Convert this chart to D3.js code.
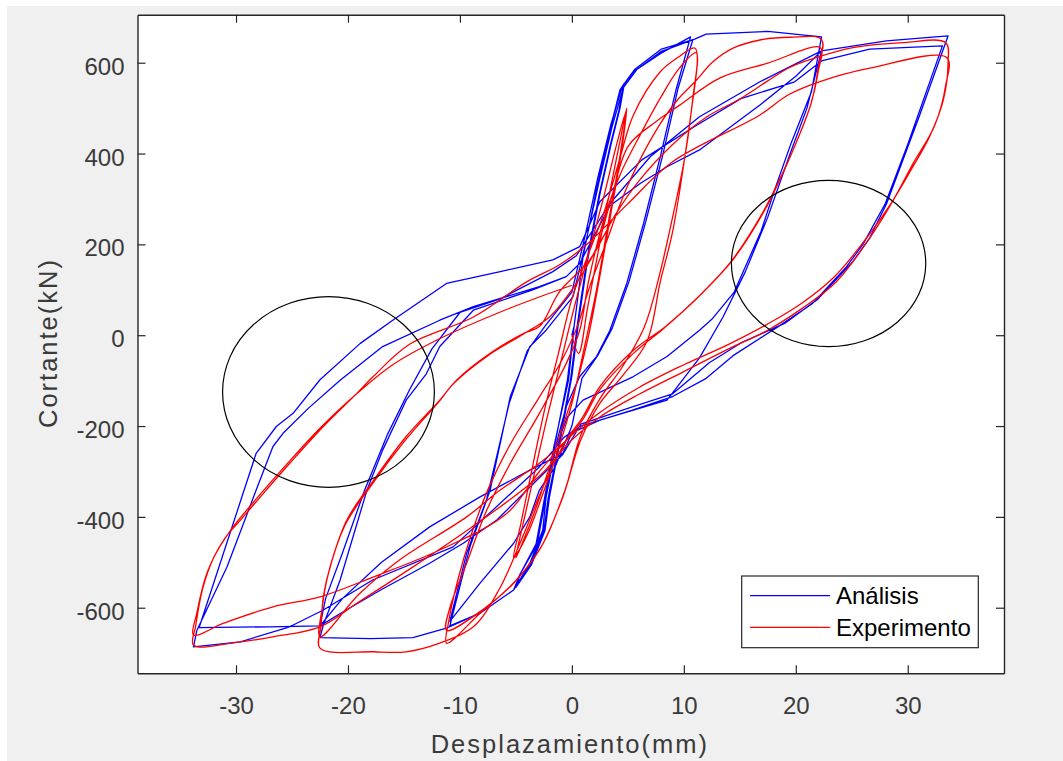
<!DOCTYPE html>
<html><head><meta charset="utf-8">
<script src="https://cdn.jsdelivr.net/npm/d3@7"></script>
<style>
html,body{margin:0;padding:0;background:#fff;}
text{font-family:"Liberation Sans",Arial,Helvetica,sans-serif;}
</style></head>
<body>
<svg id="chart" width="1063" height="761"></svg>
<script>
// ---------- data ----------
const xTicks = [-30, -20, -10, 0, 10, 20, 30];
const yTicks = [-600, -400, -200, 0, 200, 400, 600];
const xLabel = "Desplazamiento(mm)";
const yLabel = "Cortante(kN)";
const seriesNames = ["Análisis", "Experimento"];

// Análisis: displacement (mm) / shear (kN)
const analysisPts = [
[0,0],[0.2,20],[1.0,173],[2.2,320],[3.4,452],[4.3,540],[4.7,555],
[4.3,500],[3.5,420],[2.5,310],[1.4,165],[0.6,30],[0,-90],[-1.1,-240],[-2.0,-356],[-2.4,-430],[-3.6,-505],[-5.0,-555],
[-4.6,-525],[-3.1,-460],[-2.5,-380],[-1.6,-250],[-0.4,-99],[0.2,20],[1.0,173],[2.2,320],[3.4,452],[4.3,535],[4.6,548],
[4.2,495],[3.4,415],[2.4,305],[1.3,160],[0.5,25],[-0.1,-95],[-1.2,-245],[-2.1,-356],[-2.5,-430],[-3.7,-505],[-5.2,-561],
[-4.7,-530],[-3.2,-460],[-2.6,-380],[-1.6,-245],[-0.3,-99],[0.2,20],[1.0,173],[2.2,320],[3.4,452],[4.3,540],[5.5,580],[7.9,620],[10.6,657],
[9.3,540],[7.9,393],[6.4,246],[4.9,114],[3.4,11],[2.2,-47],[0.7,-91],[-0.5,-157],[-1.3,-230],[-2.3,-356],[-2.6,-429],[-3.75,-502],[-5.2,-561],[-8.2,-612],[-10.9,-640],
[-9.1,-466],[-7.3,-341],[-5.5,-135],[-3.75,-25],[-2.3,11],[0.1,85],[1.2,200],[2.4,335],[3.6,460],[4.6,545],[5.8,585],[8,625],[10.8,650],
[9.5,545],[8.1,395],[6.6,250],[5.1,118],[3.6,15],[2.3,-45],[0.9,-95],[0,-200],[-1.5,-290],[-2.9,-341],[-3.75,-400],[-5.2,-458],[-8.2,-546],[-10.9,-630],
[-9.4,-480],[-7.6,-360],[-5.6,-150],[-4.0,-35],[-2.4,20],[0,95],[1.1,210],[2.3,345],[3.5,465],[4.5,548],[5.6,585],[8,630],[10.97,652],[12,663],[17.5,669],[22.3,657],
[21.4,536],[19.6,424],[18.1,319],[16.9,229],[14.5,95],[12.5,35],[11.4,11],[8.5,-47],[5.5,-91],[1,-143],[-0.4,-180],[-1.4,-245],[-2.3,-356],[-2.6,-429],[-3.75,-502],[-5.2,-561],[-8.2,-612],[-11.2,-645],[-14.2,-666],[-18,-668],[-22.5,-666],
[-22.2,-638],[-20.7,-539],[-18.3,-341],[-16.9,-253],[-14.8,-143],[-13,-85],[-11.8,-25],[-8.8,55],[-3.5,100],[-0.5,129],[0.7,158],[3.4,285],[6.1,334],[8.5,371],[11.4,408],[16.8,507],[20,570],[22.3,626],
[21,500],[19.5,400],[17.5,260],[15.5,140],[13.5,40],[11.4,-50],[8.5,-143],[5.5,-165],[2.5,-187],[0,-215],[-0.8,-260],[-3.75,-297],[-8.2,-356],[-12.7,-422],[-17,-500],[-20.5,-580],[-22.5,-640],
[-22,-580],[-20.5,-480],[-18.5,-340],[-16.5,-220],[-14.5,-120],[-12.5,-30],[-10,50],[-6.4,80],[-1.7,140],[0.4,175],[3.4,290],[7,393],[11.4,481],[16.8,558],[22.3,626],[28.1,648],[33.6,659],
[31,480],[28.1,289],[26.6,214],[25.1,162],[22,80],[19,26],[15.1,-17],[12.3,-60],[9,-129],[5.4,-158],[0.8,-196],[-0.8,-262],[-4.3,-348],[-6.7,-407],[-9.7,-458],[-12.7,-502],[-17,-560],[-20.5,-610],[-22.5,-640],[-27,-642],[-33.3,-644],
[-28.2,-260],[-26.4,-201],[-24.9,-172],[-22.5,-98],[-18.9,-18],[-16,33],[-11.2,114],[-6.4,140],[-1.7,166],[0.7,195],[2.5,294],[6.25,386],[11,460],[15.1,521],[19.9,558],[22.3,604],[26.6,630],[33.1,637],
[32,560],[30,420],[28,290],[26,200],[24.5,150],[21.5,70],[18.5,20],[14.4,-45],[12,-95],[9,-135],[5.4,-165],[0.8,-200],[-0.7,-225],[-2.9,-290],[-10.6,-466],[-17.8,-539],[-22.2,-605],[-25.2,-642],[-29.6,-675],[-33.8,-686],
[-33.5,-650],[-30.8,-510],[-28.2,-341],[-26.7,-245],[-25.8,-216],[-23.5,-160],[-20.7,-99],[-16.9,-25],[-11.8,33],[-8.8,63],[-2.9,107],[-0.5,129],[0.7,158]
];

// Experimento: displacement (mm) / shear (kN)
const experimentPts = [
[0,0],[0.6,-40],[1.4,60],[2.4,190],[3.5,330],[4.4,440],[4.9,500],
[4.4,400],[3.5,270],[2.5,130],[1.5,0],[0.5,-100],[-0.8,-200],[-2,-290],[-3.2,-380],[-4.3,-450],[-5,-490],
[-4.4,-420],[-3.4,-310],[-2.2,-180],[-1,-60],[0.2,60],[1.5,180],[2.8,300],[4,420],[4.8,490],
[4.2,380],[3.2,240],[2.2,100],[1,-40],[0,-150],[-1.2,-250],[-2.6,-350],[-4,-440],[-5.2,-490],
[-4.6,-420],[-3.6,-300],[-2.4,-160],[-1.2,-40],[0,80],[1.5,180],[2.8,265],[4.3,390],[5.5,485],[7.9,580],[9.5,612],[11,632],
[10.6,480],[10,380],[9,260],[7.8,130],[6.5,20],[4.5,-70],[2.5,-140],[0.8,-220],[-0.6,-340],[-2.6,-460],[-5,-540],[-8,-605],[-11.2,-650],
[-10.9,-600],[-9.4,-502],[-7.6,-385],[-5.5,-282],[-2.9,-172],[-0.5,-62],[0.7,11],[1.5,120],[2.8,250],[4.3,353],[6.1,441],[7.9,522],[9.6,588],[11.1,622],
[10.8,521],[10.2,411],[9,228],[7.9,118],[6.7,-14],[4.5,-90],[2.5,-150],[0.8,-230],[-0.8,-356],[-2.9,-473],[-5.2,-546],[-8.2,-612],[-11.2,-678],
[-11,-630],[-10.2,-540],[-9,-440],[-7.5,-340],[-5.5,-240],[-3,-140],[-1,-60],[0.5,20],[1.5,100],[3,200],[5,330],[7.5,450],[9.5,520],[11,558],[12.6,602],[14.4,632],[16.8,650],[19.5,656],[22.3,651],
[22,588],[21.4,513],[19.9,416],[18.7,349],[17.2,274],[14.5,170],[11.4,87],[8.4,20],[5.5,-33],[2.5,-113],[1,-179],[-0.5,-231],[-2.5,-330],[-4.5,-450],[-6.5,-560],[-8.8,-642],[-11.8,-678],[-14.8,-697],[-17.7,-697],[-22.5,-689],
[-22.4,-640],[-22.2,-576],[-21.6,-510],[-20.1,-407],[-17.7,-319],[-14.8,-223],[-11.8,-143],[-10.3,-99],[-7.3,-40],[-4.3,4],[-2.9,19],[-1.1,96],[1.9,177],[3.5,300],[5.05,417],[7.5,470],[9.6,506],[13.2,566],[17.5,599],[22.2,633],
[22,580],[21.3,505],[19.8,410],[18.5,340],[17,268],[14.3,165],[11.2,82],[8.2,15],[5.5,-40],[2.5,-120],[1,-185],[-0.5,-231],[-2.9,-282],[-6.4,-341],[-9.4,-400],[-15.4,-495],[-19,-570],[-22.5,-664],
[-22.3,-600],[-21.8,-530],[-20.3,-420],[-17.9,-330],[-15,-235],[-12,-150],[-10.5,-105],[-7.5,-45],[-4.5,0],[-2,40],[0,100],[2,180],[4,270],[6,340],[9,420],[12,480],[15,520],[17.5,560],[19.5,590],[21.7,610],[25.1,633],[29.6,644],[33.4,644],
[33.6,600],[33.2,520],[32,440],[30.2,360],[28.5,290],[26.5,220],[23.5,130],[20.5,70],[17.5,25],[14,-20],[10,-65],[6,-115],[2.5,-170],[0,-220],[-2.9,-300],[-5.8,-392],[-11.8,-473],[-17.7,-532],[-22.5,-576],[-26.7,-598],[-31.1,-634],[-33.8,-660],
[-33.5,-612],[-32.6,-524],[-31.1,-451],[-29.6,-407],[-27.3,-341],[-25.2,-282],[-22.2,-201],[-19.2,-128],[-17.7,-90],[-14.5,-20],[-8.8,40],[-4,118],[-1.1,155],[1.3,199],[4.9,287],[9,382],[16.8,485],[19.3,529],[22.1,558],[26.6,588],[33.5,611],
[33.4,551],[32.4,461],[30.5,379],[28.7,297],[26.6,214],[23.6,117],[20.5,58],[17.5,11],[14,-30],[10,-80],[6,-130],[2.5,-180],[0,-230],[-2.9,-310],[-8.8,-420],[-14.8,-520],[-19.2,-590],[-22.5,-642],[-26.7,-664],[-29.6,-675],[-33.8,-682],
[-33.6,-640],[-33,-560],[-32,-490],[-30.5,-430],[-28,-355],[-25.5,-285],[-22.5,-205],[-19.5,-135],[-16,-65],[-12,-10],[-6,55],[0,110]
];

// highlighted regions (ellipses): centre x, centre y, radius x (mm), radius y (kN)
const circleCx = [-21.74, 22.93];
const circleCy = [-125, 158];
const circleRx = [9.46, 8.68];
const circleRy = [210, 183];

// ---------- layout ----------
const L = 137.5, T = 14.7, R = 1004, B = 673.3;
const svg = d3.select("#chart");
svg.append("rect").attr("x",7).attr("y",6).attr("width",1056).attr("height",755).attr("fill","#f0f0f0");
svg.append("rect").attr("x",L).attr("y",T).attr("width",R-L).attr("height",B-T).attr("fill","#fff");

const x = d3.scaleLinear().domain([-38.8, 38.6]).range([L, R]);
const y = d3.scaleLinear().domain([-744.4, 705.7]).range([B, T]);

svg.append("clipPath").attr("id","clip").append("rect")
  .attr("x",L).attr("y",T).attr("width",R-L).attr("height",B-T);
const plot = svg.append("g").attr("clip-path","url(#clip)");

const lineBlue = d3.line().x(d=>x(d[0])).y(d=>y(d[1])).curve(d3.curveLinear);
const lineRed = d3.line().x(d=>x(d[0])).y(d=>y(d[1])).curve(d3.curveCatmullRom.alpha(0.5));

plot.append("path").attr("d", lineBlue(analysisPts)).attr("fill","none")
  .attr("stroke","#0000ff").attr("stroke-width",1.3).attr("stroke-linejoin","round");
plot.append("path").attr("d", lineRed(experimentPts)).attr("fill","none")
  .attr("stroke","#ff0000").attr("stroke-width",1.3).attr("stroke-linejoin","round");

circleCx.forEach((cx,i)=>{
  plot.append("ellipse")
    .attr("cx", x(cx)).attr("cy", y(circleCy[i]))
    .attr("rx", x(cx+circleRx[i]) - x(cx)).attr("ry", y(circleCy[i]) - y(circleCy[i]+circleRy[i]))
    .attr("fill","none").attr("stroke","#000").attr("stroke-width",1.2);
});

// ---------- axes ----------
const axCol = "#262626";
const fmt = d => String(d);
const gB = svg.append("g").attr("transform",`translate(0,${B})`)
  .call(d3.axisBottom(x).tickValues(xTicks).tickSize(-8).tickSizeOuter(0).tickPadding(24).tickFormat(fmt));
const gT = svg.append("g").attr("transform",`translate(0,${T})`)
  .call(d3.axisTop(x).tickValues(xTicks).tickSize(-8).tickSizeOuter(0).tickFormat(""));
const gL = svg.append("g").attr("transform",`translate(${L},0)`)
  .call(d3.axisLeft(y).tickValues(yTicks).tickSize(-8).tickSizeOuter(0).tickPadding(13).tickFormat(fmt));
const gR = svg.append("g").attr("transform",`translate(${R},0)`)
  .call(d3.axisRight(y).tickValues(yTicks).tickSize(-8).tickSizeOuter(0).tickFormat(""));
[gB,gT,gL,gR].forEach(g=>{
  g.select(".domain").attr("stroke",axCol).attr("stroke-width",1.4);
  g.selectAll(".tick line").attr("stroke",axCol).attr("stroke-width",1.2);
  g.selectAll("text").attr("fill","#3a3a3a").style("font-size","24px")
    .style("font-family",'"Liberation Sans",Arial,sans-serif');
});
gB.selectAll("text").attr("dy","0.71em");
gL.selectAll("text").attr("dy","0.48em");

// axis titles
svg.append("text").attr("x",430.7).attr("y",753).attr("fill","#3a3a3a")
  .style("font-size","25.5px").style("letter-spacing","2px").text(xLabel);
svg.append("text").attr("transform","translate(57,428) rotate(-90)").attr("fill","#3a3a3a")
  .style("font-size","25.5px").style("letter-spacing","2px").text(yLabel);

// ---------- legend ----------
const lg = svg.append("g");
lg.append("rect").attr("x",741.7).attr("y",576).attr("width",236.6).attr("height",71.7)
  .attr("fill","#fff").attr("stroke",axCol).attr("stroke-width",1.2);
const colors = ["#0000ff","#ff0000"];
seriesNames.forEach((n,i)=>{
  const yy = 595.7 + i*31.6;
  lg.append("line").attr("x1",750).attr("x2",830).attr("y1",yy).attr("y2",yy)
    .attr("stroke",colors[i]).attr("stroke-width",1.3);
  lg.append("text").attr("x",836).attr("y",yy+8.6).attr("fill","#000")
    .style("font-size","24px").text(n);
});
</script>
</body></html>
